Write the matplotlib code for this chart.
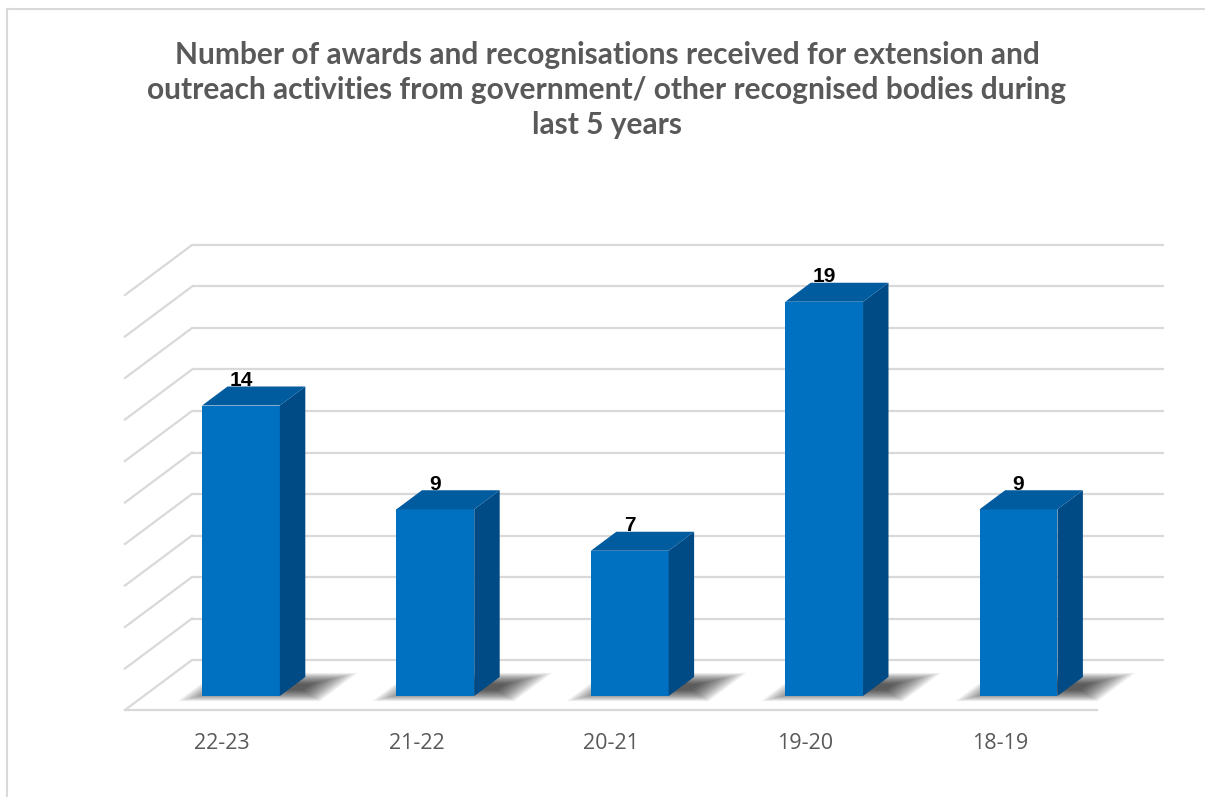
import numpy as np
import matplotlib
matplotlib.use('Agg')
import matplotlib.pyplot as plt
from matplotlib.patches import Polygon
from matplotlib.lines import Line2D

# data
years = ['22-23', '21-22', '20-21', '19-20', '18-19']
awards = [14, 9, 7, 19, 9]
y_ticks = list(range(0, 21, 2))
title = ('Number of awards and recognisations received for extension and\n'
         'outreach activities from government/ other recognised bodies during\n'
         'last 5 years')

W, H = 1205, 797
CAT_PX, UNIT_PX = 194.4, 20.75          # px per category, px per value unit
X0_PX, Y0_PX = 125, 710                  # front-left corner of floor
DX, DY = 67 / CAT_PX, 50 / UNIT_PX       # depth vector in data units
D0, D1 = 0.28, 0.66                      # bar depth range
BW = 0.40

front_c = '#0070C0'
side_c = '#004B85'
top_c = '#005B9F'
grid_c = '#D9D9D9'

fig = plt.figure(figsize=(W / 100, H / 100), dpi=100)
fig.set_facecolor('white')
ax = fig.add_axes([0, 0, 1, 1])
ax.set_xlim(-X0_PX / CAT_PX, (W - X0_PX) / CAT_PX)
ax.set_ylim(-(H - Y0_PX) / UNIT_PX, Y0_PX / UNIT_PX)
ax.axis('off')

n = len(years)

# walls / gridlines
for v in y_ticks:
    ax.plot([DX, n + DX], [v + DY, v + DY], color=grid_c, lw=1.6, zorder=1,
            solid_capstyle='butt')
    ax.plot([0, DX], [v, v + DY], color=grid_c, lw=1.6, zorder=1)
ax.plot([0, n], [0, 0], color=grid_c, lw=1.6, zorder=1)

# bars
xl = np.arange(n) + 0.5 - BW / 2 + D0 * DX
b0 = D0 * DY
ddx, ddy = (D1 - D0) * DX, (D1 - D0) * DY

for i, v in enumerate(awards):
    # soft shadow on the floor
    for k in range(26):
        e = k * 1.3 / CAT_PX
        ed = k * 0.009
        fx0 = xl[i] - e - 4 / CAT_PX
        fx1 = xl[i] + BW + e - 4 / CAT_PX
        da, db = D0 + 0.12 - ed, D1 - 0.14 + ed
        poly = [(fx0 + da * DX, da * DY), (fx1 + da * DX, da * DY),
                (fx1 + db * DX, db * DY), (fx0 + db * DX, db * DY)]
        ax.add_patch(Polygon(poly, closed=True, facecolor='black',
                             edgecolor='none', alpha=0.036, zorder=2))

ax.bar(xl, awards, width=BW, bottom=b0, align='edge', color=front_c,
       zorder=4, linewidth=0)

for i, v in enumerate(awards):
    xr = xl[i] + BW
    side = [(xr, b0), (xr, b0 + v), (xr + ddx, b0 + v + ddy), (xr + ddx, b0 + ddy)]
    top = [(xl[i], b0 + v), (xr, b0 + v), (xr + ddx, b0 + v + ddy),
           (xl[i] + ddx, b0 + v + ddy)]
    ax.add_patch(Polygon(side, closed=True, facecolor=side_c, edgecolor='none', zorder=4))
    ax.add_patch(Polygon(top, closed=True, facecolor=top_c, edgecolor='none', zorder=4))
    ax.text(xl[i] + BW / 2, b0 + v + ddy + 0.3, str(v), ha='center', va='center',
            fontsize=15, fontweight='bold', family='Liberation Sans', color='black',
            zorder=6)

for i, lab in enumerate(years):
    ax.text(i + 0.5, -1.6, lab, ha='center', va='center', fontsize=15.5,
            family='Open Sans', color='#595959')

fig.text(607 / W, 1 - 90 / H, title, ha='center', va='center', fontsize=21.5,
         fontweight='bold', family='Lato', color='#595959', linespacing=1.3)

# chart area border (left and top visible)
fig.add_artist(Line2D([7 / W, 7 / W], [0, 1 - 9 / H], color=grid_c, lw=1.5))
fig.add_artist(Line2D([7 / W, 1], [1 - 9 / H, 1 - 9 / H], color=grid_c, lw=1.5))

fig.savefig('out.png', dpi=100)
